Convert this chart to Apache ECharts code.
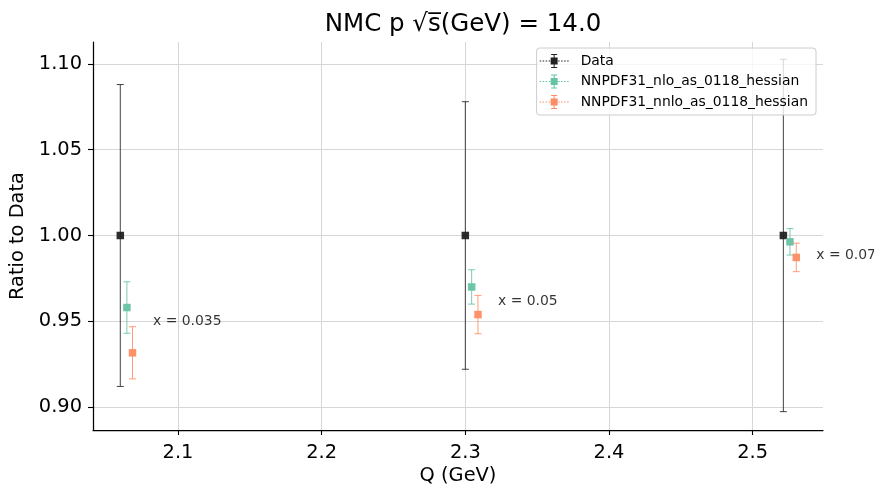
<!DOCTYPE html>
<html>
<head>
<meta charset="utf-8">
<script src="https://cdn.jsdelivr.net/npm/echarts@6/dist/echarts.min.js"></script>
<style>
  html, body { margin: 0; padding: 0; background: #fff; }
  #main { width: 874px; height: 486px; }
</style>
</head>
<body>
<div id="main"></div>
<script>
// NMC p, sqrt(s) = 14 GeV : theory / data ratio per Q bin
const seriesNames = ['Data', 'NNPDF31_nlo_as_0118_hessian', 'NNPDF31_nnlo_as_0118_hessian'];
const seriesColors = ['#222222', '#66c2a5', '#fc8d62'];

const dataQ = [2.0598, 2.3000, 2.5214];
const dataRatio = [1.0, 1.0, 1.0];
const dataErr = [0.088, 0.078, 0.1027];

const nloQ = [2.0644, 2.3044, 2.5260];
const nloRatio = [0.958, 0.970, 0.9963];
const nloErr = [0.015, 0.010, 0.0077];

const nnloQ = [2.0683, 2.3088, 2.5304];
const nnloRatio = [0.9316, 0.9539, 0.9872];
const nnloErr = [0.0152, 0.0112, 0.0083];

const binLabels = ['x = 0.035', 'x = 0.05', 'x = 0.07'];
const labelQ = [2.0826, 2.3228, 2.5443];
const labelRatio = [0.9498, 0.9613, 0.9882];

const xTicks = [2.1, 2.2, 2.3, 2.4, 2.5];
const yTicks = [0.90, 0.95, 1.00, 1.05, 1.10];

const FONT = 'DejaVu Sans';

// legend glyph: dotted line + square with error bar
const legendIcon = 'path://' +
  'M0 6.5h1.5v1h-1.5z M3 6.5h1.5v1h-1.5z M6 6.5h1.5v1h-1.5z M9 6.5h1.5v1h-1.5z ' +
  'M18.5 6.5h1.5v1h-1.5z M21.5 6.5h1.5v1h-1.5z M24.5 6.5h1.5v1h-1.5z M27.5 6.5h1.5v1h-1.5z ' +
  'M14 0h1v14h-1z M11.5 0h6v1h-6z M11.5 13h6v1h-6z M11 3.5h7v7h-7z';

function zip(q, r, e) {
  return q.map((v, i) => [v, r[i], e[i]]);
}

function errorBar(params, api) {
  const x = api.value(0), y = api.value(1), e = api.value(2);
  const c = api.coord([x, y]);
  const top = api.coord([x, y + e])[1];
  const bot = api.coord([x, y - e])[1];
  const color = api.visual('color');
  const cap = 3.5, s = 3.75;
  const ls = { stroke: color, lineWidth: 1, opacity: 0.85 };
  return {
    type: 'group',
    children: [
      { type: 'line', shape: { x1: c[0], y1: top, x2: c[0], y2: bot }, style: ls },
      { type: 'line', shape: { x1: c[0] - cap, y1: top, x2: c[0] + cap, y2: top }, style: ls },
      { type: 'line', shape: { x1: c[0] - cap, y1: bot, x2: c[0] + cap, y2: bot }, style: ls },
      { type: 'rect', shape: { x: c[0] - s, y: c[1] - s, width: 2 * s, height: 2 * s }, style: { fill: color, opacity: 0.95 } }
    ]
  };
}

const chart = echarts.init(document.getElementById('main'), null, { renderer: 'canvas' });

const option = {
  animation: false,
  backgroundColor: '#ffffff',
  textStyle: { fontFamily: FONT },
  title: {
    text: 'NMC p \u221As\u0305(GeV) = 14.0',
    left: 458,
    top: 7,
    textAlign: 'center',
    textStyle: { fontSize: 24.5, fontWeight: 'normal', color: '#000', fontFamily: FONT }
  },
  grid: { left: 93, right: 51, top: 42, bottom: 56, containLabel: false, outerBoundsMode: 'none' },
  legend: {
    orient: 'vertical',
    right: 58,
    top: 48,
    z: 10,
    padding: [6, 8, 6, 3],
    itemWidth: 29,
    itemHeight: 14,
    itemGap: 6.5,
    borderColor: '#cccccc',
    borderWidth: 1,
    borderRadius: 3,
    backgroundColor: 'rgba(255,255,255,0.8)',
    textStyle: { fontSize: 13.9, color: '#000', fontFamily: FONT, padding: [0, 0, 0, 7] },
    data: seriesNames.map(n => ({ name: n, icon: legendIcon }))
  },
  xAxis: {
    type: 'value',
    min: 2.0408,
    max: 2.549,
    name: 'Q (GeV)',
    nameLocation: 'middle',
    nameGap: 36,
    nameTextStyle: { fontSize: 19.4, color: '#000', fontFamily: FONT },
    axisLine: { show: true, onZero: false, lineStyle: { color: '#000', width: 1.25 } },
    axisTick: { show: true, length: 5, customValues: xTicks, lineStyle: { color: '#000', width: 1.1 } },
    axisLabel: { customValues: xTicks, margin: 13, fontSize: 19.4, color: '#000', formatter: v => v.toFixed(1) },
    splitLine: { show: true, lineStyle: { color: '#d6d6d6', width: 1 } }
  },
  yAxis: {
    type: 'value',
    min: 0.8866,
    max: 1.1128,
    name: 'Ratio to Data',
    nameLocation: 'middle',
    nameGap: 63,
    nameTextStyle: { fontSize: 19.4, color: '#000', fontFamily: FONT },
    axisLine: { show: true, onZero: false, lineStyle: { color: '#000', width: 1.25 } },
    axisTick: { show: true, length: 5, customValues: yTicks, lineStyle: { color: '#000', width: 1.1 } },
    axisLabel: { customValues: yTicks, margin: 11, fontSize: 19.4, color: '#000', formatter: v => v.toFixed(2) },
    splitLine: { show: true, lineStyle: { color: '#d6d6d6', width: 1 } }
  },
  series: [
    {
      name: seriesNames[0], type: 'custom', renderItem: errorBar,
      itemStyle: { color: seriesColors[0] },
      encode: { x: 0, y: 1 },
      data: zip(dataQ, dataRatio, dataErr), z: 3
    },
    {
      name: seriesNames[1], type: 'custom', renderItem: errorBar,
      itemStyle: { color: seriesColors[1] },
      encode: { x: 0, y: 1 },
      data: zip(nloQ, nloRatio, nloErr), z: 4
    },
    {
      name: seriesNames[2], type: 'custom', renderItem: errorBar,
      itemStyle: { color: seriesColors[2] },
      encode: { x: 0, y: 1 },
      data: zip(nnloQ, nnloRatio, nnloErr), z: 5
    },
    {
      name: 'bins', type: 'scatter', symbolSize: 0, silent: true,
      data: labelQ.map((q, i) => ({ value: [q, labelRatio[i]], name: binLabels[i] })),
      label: {
        show: true, position: 'right', distance: 0,
        formatter: p => p.name,
        fontSize: 13.9, color: '#000', textBorderWidth: 0, fontFamily: FONT
      }
    }
  ]
};

chart.setOption(option);
</script>
</body>
</html>
